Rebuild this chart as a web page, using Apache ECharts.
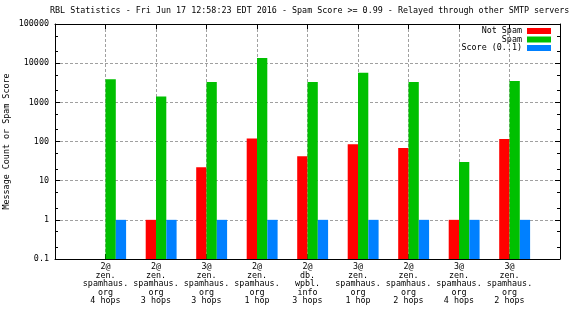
<!DOCTYPE html>
<html>
<head>
<meta charset="utf-8">
<script src="https://cdn.jsdelivr.net/npm/echarts@6/dist/echarts.min.js"></script>
<style>html,body{margin:0;padding:0;background:#fff}#c{width:576px;height:324px}</style>
</head>
<body>
<div id="c"></div>
<script>
const categories = [
  "2@\nzen.\nspamhaus.\norg\n4 hops",
  "2@\nzen.\nspamhaus.\norg\n3 hops",
  "3@\nzen.\nspamhaus.\norg\n3 hops",
  "2@\nzen.\nspamhaus.\norg\n1 hop",
  "2@\ndb.\nwpbl.\ninfo\n3 hops",
  "3@\nzen.\nspamhaus.\norg\n1 hop",
  "2@\nzen.\nspamhaus.\norg\n2 hops",
  "3@\nzen.\nspamhaus.\norg\n4 hops",
  "3@\nzen.\nspamhaus.\norg\n2 hops"
];
const notSpam = [null, 1, 22, 120, 42, 85, 68, 1, 115];
const spam = [3900, 1400, 3300, 13600, 3300, 5700, 3300, 30, 3500];
const score = [1, 1, 1, 1, 1, 1, 1, 1, 1];
const minorTickValues = [0.2, 0.5, 2, 5, 20, 50, 200, 500, 2000, 5000, 20000, 50000];
const majorTickValues = [0.1, 1, 10, 100, 1000, 10000, 100000];

const FONT = 'DejaVu Sans Mono';
const FS = 8.4;
const xCats = [''].concat(categories, ['']);
const pad = a => [null].concat(a, [null]);
const gridStyle = { color: '#a0a0a0', type: [3, 2], width: 1 };

function yAx(extra) {
  return Object.assign({
    type: 'log', logBase: 10, min: 0.1, max: 100000,
    axisLine: { show: false }, axisLabel: { show: false },
    splitLine: { show: false }
  }, extra);
}

const chart = echarts.init(document.getElementById('c'), null, { renderer: 'canvas' });
chart.setOption({
  animation: false,
  backgroundColor: '#ffffff',
  title: {
    text: 'RBL Statistics - Fri Jun 17 12:58:23 EDT 2016 - Spam Score >= 0.99 - Relayed through other SMTP servers',
    left: 50, top: 7, padding: 0,
    textStyle: { fontFamily: FONT, fontSize: FS, fontWeight: 'normal', color: '#000' }
  },
  legend: [
    { data: ['Not Spam'], top: 27, right: 25 },
    { data: ['Spam'], top: 35.5, right: 25 },
    { data: ['Score (0..1)'], top: 44, right: 25 }
  ].map(l => Object.assign({
    orient: 'vertical', align: 'right', padding: 0,
    itemWidth: 24, itemHeight: 6, icon: 'rect',
    textStyle: { fontFamily: FONT, fontSize: FS, color: '#000' }
  }, l)),
  grid: { left: 55, right: 16, top: 24, bottom: 65, containLabel: false, outerBoundsMode: 'none' },
  xAxis: [
    {
      type: 'category', data: xCats, boundaryGap: false,
      axisLine: { show: true, lineStyle: { color: '#000', width: 1 } },
      axisTick: { show: true, inside: true, length: 5, interval: 0, lineStyle: { color: '#000' } },
      axisLabel: { interval: 0, margin: 4, fontFamily: FONT, fontSize: FS, lineHeight: 8.4, color: '#000', align: 'center' },
      splitLine: { show: true, interval: 0, lineStyle: gridStyle }
    },
    {
      type: 'category', data: xCats, boundaryGap: false, position: 'top',
      axisLine: { show: true, lineStyle: { color: '#000', width: 1 } },
      axisTick: { show: true, inside: true, length: 5, interval: 0, lineStyle: { color: '#000' } },
      axisLabel: { show: false }, splitLine: { show: false }
    }
  ],
  yAxis: [
    {
      type: 'log', logBase: 10, min: 0.1, max: 100000, startValue: 0.1,
      name: 'Message Count or Spam Score', nameLocation: 'middle', nameGap: 44, nameRotate: 90,
      nameMoveOverlap: false,
      nameTextStyle: { fontFamily: FONT, fontSize: FS, color: '#000' },
      axisLine: { show: true, lineStyle: { color: '#000', width: 1 } },
      axisTick: { show: true, inside: true, length: 5, customValues: majorTickValues, lineStyle: { color: '#000' } },
      axisLabel: { margin: 6, fontFamily: FONT, fontSize: FS, color: '#000', customValues: majorTickValues,
        formatter: v => String(v) },
      splitLine: { show: true, lineStyle: gridStyle }
    },
    yAx({ position: 'left', axisTick: { show: true, inside: true, length: 3, customValues: minorTickValues, lineStyle: { color: '#000' } } }),
    yAx({ position: 'right', axisLine: { show: true, lineStyle: { color: '#000', width: 1 } },
      axisTick: { show: true, inside: true, length: 5, customValues: majorTickValues, lineStyle: { color: '#000' } } }),
    yAx({ position: 'right', axisTick: { show: true, inside: true, length: 3, customValues: minorTickValues, lineStyle: { color: '#000' } } })
  ],
  series: [
    { name: 'offset', type: 'bar', data: pad(categories.map(() => null)), barWidth: 10.3, barGap: '0%', silent: true, itemStyle: { color: 'rgba(0,0,0,0)' } },
    { name: 'Not Spam', type: 'bar', data: pad(notSpam), barWidth: 10.3, barGap: '0%', itemStyle: { color: '#ff0000' } },
    { name: 'Spam', type: 'bar', data: pad(spam), barWidth: 10.3, barGap: '0%', itemStyle: { color: '#00c000' } },
    { name: 'Score (0..1)', type: 'bar', data: pad(score), barWidth: 10.3, barGap: '0%', itemStyle: { color: '#0080ff' } }
  ]
});
</script>
</body>
</html>
